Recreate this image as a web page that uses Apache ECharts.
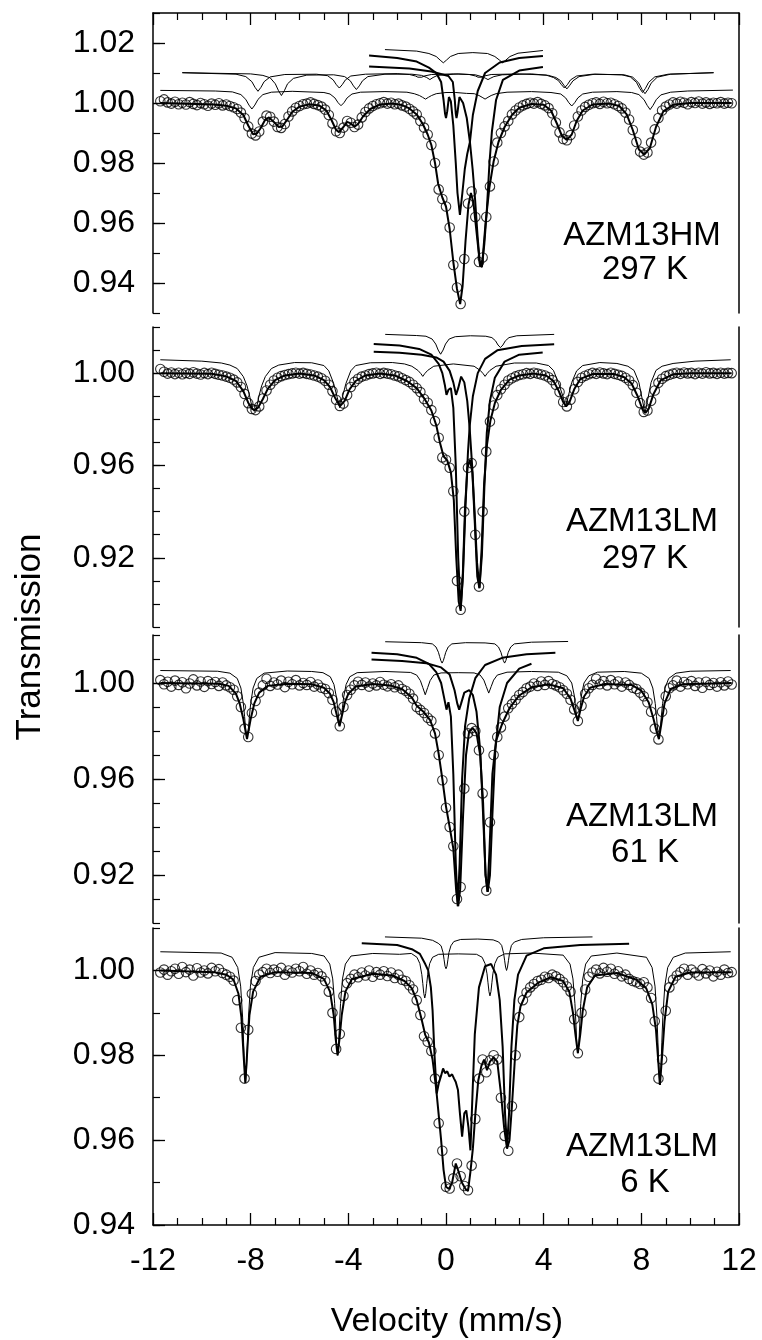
<!DOCTYPE html>
<html>
<head>
<meta charset="utf-8">
<script src="https://cdn.jsdelivr.net/npm/echarts@6/dist/echarts.min.js"></script>
<style>
html, body { margin: 0; padding: 0; background: #fff; }
#chart { width: 762px; height: 1340px; }
</style>
</head>
<body>
<div id="chart"></div>
<script>
// velocity of each channel (mm/s), shared by all four spectra
var VEL = [-11.7,-11.55,-11.4,-11.25,-11.1,-10.95,-10.8,-10.65,-10.5,-10.35,
  -10.2,-10.05,-9.9,-9.75,-9.6,-9.45,-9.3,-9.15,-9,-8.85,
  -8.7,-8.55,-8.4,-8.25,-8.1,-7.95,-7.8,-7.65,-7.5,-7.35,
  -7.2,-7.05,-6.9,-6.75,-6.6,-6.45,-6.3,-6.15,-6,-5.85,
  -5.7,-5.55,-5.4,-5.25,-5.1,-4.95,-4.8,-4.65,-4.5,-4.35,
  -4.2,-4.05,-3.9,-3.75,-3.6,-3.45,-3.3,-3.15,-3,-2.85,
  -2.7,-2.55,-2.4,-2.25,-2.1,-1.95,-1.8,-1.65,-1.5,-1.35,
  -1.2,-1.05,-0.9,-0.75,-0.6,-0.45,-0.3,-0.15,0,0.15,
  0.3,0.45,0.6,0.75,0.9,1.05,1.2,1.35,1.5,1.65,
  1.8,1.95,2.1,2.25,2.4,2.55,2.7,2.85,3,3.15,
  3.3,3.45,3.6,3.75,3.9,4.05,4.2,4.35,4.5,4.65,
  4.8,4.95,5.1,5.25,5.4,5.55,5.7,5.85,6,6.15,
  6.3,6.45,6.6,6.75,6.9,7.05,7.2,7.35,7.5,7.65,
  7.8,7.95,8.1,8.25,8.4,8.55,8.7,8.85,9,9.15,
  9.3,9.45,9.6,9.75,9.9,10.05,10.2,10.35,10.5,10.65,
  10.8,10.95,11.1,11.25,11.4,11.55,11.7];

// ---- AZM13HM 297 K ----
var hm297Data = [1.0006,1.0012,1.0002,0.9998,1.0004,0.9996,1.0001,0.9995,1.0003,0.9997,
  0.9993,1.0000,0.9996,0.9991,0.9998,0.9994,0.9999,0.9992,0.9995,0.9990,
  0.9986,0.9980,0.9968,0.9950,0.9922,0.9898,0.9892,0.9905,0.9938,0.9958,
  0.9954,0.9938,0.9920,0.9917,0.9930,0.9955,0.9972,0.9984,0.9990,0.9996,
  0.9998,1.0002,0.9997,0.9993,0.9988,0.9978,0.9960,0.9932,0.9906,0.9900,
  0.9918,0.9940,0.9934,0.9920,0.9928,0.9952,0.9970,0.9982,0.9990,0.9996,
  0.9999,1.0003,0.9998,1.0001,0.9996,0.9998,0.9992,0.9988,0.9981,0.9972,
  0.9962,0.9940,0.9918,0.9895,0.9860,0.9800,0.9712,0.9680,0.9655,0.9585,
  0.9460,0.9385,0.9330,0.9480,0.9665,0.9705,0.9620,0.9470,0.9485,0.9620,
  0.9722,0.9805,0.9868,0.9900,0.9922,0.9940,0.9962,0.9975,0.9985,0.9992,
  0.9997,1.0001,0.9998,1.0003,0.9997,0.9992,0.9983,0.9966,0.9935,0.9902,
  0.9880,0.9876,0.9893,0.9925,0.9955,0.9975,0.9987,0.9994,0.9999,1.0002,
  0.9997,1.0004,0.9999,1.0001,0.9996,0.9990,0.9982,0.9968,0.9945,0.9910,
  0.9870,0.9838,0.9828,0.9835,0.9868,0.9912,0.9950,0.9975,0.9988,0.9995,
  1.0002,0.9998,1.0004,1.0001,0.9996,1.0003,1.0000,1.0005,0.9998,1.0002,
  0.9997,1.0001,0.9999,1.0003,0.9998,1.0001,0.9999];
var hm297Fit = [[-11.7,1.0],[-9.5,0.9995],[-9.0,0.9991],[-8.6,0.9982],[-8.3,0.9960],[-8.1,0.9925],[-7.9,0.9896],[-7.75,0.9898],[-7.6,0.9915],[-7.4,0.9945],[-7.25,0.9952],[-7.05,0.9937],[-6.85,0.9920],[-6.7,0.9922],[-6.5,0.9945],[-6.3,0.9970],[-6.0,0.9988],[-5.6,0.9996],[-5.2,0.9992],[-4.9,0.9975],[-4.7,0.9945],[-4.5,0.9910],[-4.38,0.9903],[-4.2,0.9920],[-4.05,0.9937],[-3.9,0.9932],[-3.75,0.9921],[-3.6,0.9930],[-3.4,0.9955],[-3.1,0.9980],[-2.7,0.9995],[-2.2,0.9998],[-1.8,0.9993],[-1.5,0.9982],[-1.2,0.9962],[-0.95,0.9930],[-0.75,0.9895],[-0.6,0.9860],[-0.45,0.9800],[-0.32,0.9730],[-0.15,0.9685],[0.0,0.9655],[0.15,0.9580],[0.3,0.9470],[0.45,0.9380],[0.58,0.9330],[0.68,0.9390],[0.8,0.9540],[0.92,0.9660],[1.02,0.9700],[1.12,0.9670],[1.25,0.9570],[1.4,0.9455],[1.5,0.9480],[1.62,0.9600],[1.78,0.9720],[1.95,0.9805],[2.15,0.9870],[2.4,0.9920],[2.7,0.9960],[3.0,0.9984],[3.5,0.9997],[4.0,0.9994],[4.3,0.9975],[4.55,0.9930],[4.75,0.9890],[4.95,0.9877],[5.15,0.9895],[5.35,0.9940],[5.6,0.9975],[6.0,0.9995],[6.7,0.9998],[7.1,0.9990],[7.4,0.9962],[7.65,0.9910],[7.9,0.9845],[8.12,0.9828],[8.35,0.9850],[8.6,0.9920],[8.9,0.9972],[9.3,0.9994],[10,1.0],[11.7,1.0]];
var hm297Sext1 = [[-11.7,1.0042],[-9.45,1.0040],[-8.75,1.0037],[-8.4,1.0028],[-8.2,1.0012],[-8.07,0.9993],[-7.95,0.9980],[-7.83,0.9993],[-7.7,1.0012],[-7.5,1.0028],[-7.15,1.0036],[-6.3,1.0039],[-5.0,1.0035],[-4.75,1.0030],[-4.55,1.0017],[-4.42,1.0001],[-4.3,0.9991],[-4.18,1.0001],[-4.05,1.0017],[-3.85,1.0030],[-3.5,1.0036],[-2.5,1.0038],[-1.6,1.0036],[-1.3,1.0031],[-1.09,1.0025],[-0.96,1.0019],[-0.84,1.0013],[-0.72,1.0019],[-0.59,1.0025],[-0.4,1.0031],[0.0,1.0035],[0.4,1.0035],[0.84,1.0032],[1.16,1.0031],[1.35,1.0025],[1.48,1.0019],[1.6,1.0013],[1.72,1.0019],[1.85,1.0025],[2.05,1.0031],[2.5,1.0036],[3.5,1.0038],[4.3,1.0035],[4.7,1.0030],[4.9,1.0017],[5.03,1.0001],[5.15,0.9990],[5.27,1.0001],[5.4,1.0017],[5.6,1.0030],[6.0,1.0036],[7.0,1.0038],[7.6,1.0035],[7.9,1.0028],[8.11,1.0011],[8.24,0.9992],[8.36,0.9978],[8.48,0.9992],[8.61,1.0011],[8.8,1.0027],[9.2,1.0036],[9.9,1.0040],[11.75,1.0043]];
var hm297Sext2 = [[-10.8,1.0101],[-8.6,1.0096],[-8.2,1.0088],[-7.95,1.0071],[-7.82,1.0052],[-7.7,1.0039],[-7.58,1.0052],[-7.45,1.0071],[-7.2,1.0087],[-6.6,1.0095],[-5.3,1.0096],[-4.85,1.0091],[-4.62,1.0077],[-4.49,1.0061],[-4.37,1.0050],[-4.25,1.0061],[-4.12,1.0077],[-3.9,1.0090],[-3.3,1.0096],[-2.0,1.0098],[-1.5,1.0095],[-1.25,1.0090],[-1.15,1.0086],[-1.07,1.0081],[-0.99,1.0086],[-0.89,1.0090],[-0.6,1.0095],[0.3,1.0097],[0.95,1.0095],[1.21,1.0090],[1.31,1.0086],[1.39,1.0081],[1.47,1.0086],[1.57,1.0090],[1.85,1.0095],[3.0,1.0097],[4.1,1.0093],[4.4,1.0085],[4.6,1.0075],[4.73,1.0061],[4.85,1.0050],[4.97,1.0061],[5.1,1.0077],[5.35,1.0090],[6.0,1.0096],[7.2,1.0094],[7.55,1.0087],[7.8,1.0069],[7.93,1.0049],[8.05,1.0035],[8.17,1.0049],[8.3,1.0069],[8.55,1.0087],[9.1,1.0096],[10.96,1.0101]];
var hm297Sext3 = [[-10.8,1.0101],[-8.0,1.0097],[-7.5,1.0092],[-7.2,1.0084],[-6.99,1.0064],[-6.86,1.0041],[-6.74,1.0025],[-6.62,1.0041],[-6.49,1.0064],[-6.25,1.0082],[-5.7,1.0093],[-4.6,1.0094],[-4.15,1.0088],[-3.92,1.0074],[-3.79,1.0057],[-3.67,1.0045],[-3.55,1.0057],[-3.42,1.0074],[-3.2,1.0088],[-2.5,1.0096],[-1.4,1.0096],[-1.0,1.0092],[-0.79,1.0085],[-0.66,1.0078],[-0.53,1.0085],[-0.35,1.0092],[0.5,1.0097],[1.2,1.0094],[1.5,1.0087],[1.63,1.0082],[1.72,1.0078],[1.81,1.0082],[1.96,1.0088],[2.3,1.0094],[3.5,1.0097],[4.2,1.0092],[4.5,1.0085],[4.7,1.0074],[4.83,1.0059],[4.95,1.0047],[5.07,1.0059],[5.2,1.0074],[5.45,1.0088],[6.1,1.0096],[7.3,1.0094],[7.65,1.0086],[7.9,1.0066],[8.03,1.0045],[8.15,1.0031],[8.27,1.0045],[8.4,1.0066],[8.65,1.0086],[9.2,1.0096],[10.96,1.0101]];
var hm297Dbl1 = [[-2.5,1.0178],[-1.2,1.0173],[-0.7,1.0165],[-0.4,1.0155],[-0.24,1.0143],[-0.11,1.0134],[0.02,1.0143],[0.18,1.0155],[0.5,1.0165],[1.1,1.0168],[1.7,1.0165],[2.0,1.0155],[2.19,1.0143],[2.32,1.0134],[2.45,1.0143],[2.62,1.0155],[2.95,1.0166],[3.97,1.0175]];
var hm297Dbl2 = [[-3.15,1.0158],[-2.0,1.0150],[-1.2,1.0138],[-0.7,1.0118],[-0.4,1.0100],[-0.2,1.0070],[-0.1,1.0010],[-0.04,0.9965],[0.0,0.9950],[0.05,0.9972],[0.12,1.0020],[0.2,1.0005],[0.3,0.9925],[0.4,0.9800],[0.47,0.9700],[0.57,0.9627],[0.67,0.9700],[0.77,0.9780],[0.87,0.9830],[0.98,0.9870],[1.1,0.9960],[1.3,1.0040],[1.6,1.0100],[2.2,1.0135],[3.0,1.0150],[3.97,1.0157]];
var hm297Dbl3 = [[-3.15,1.0122],[-1.5,1.0115],[-0.6,1.0105],[0.1,1.0090],[0.28,1.0070],[0.36,1.0010],[0.4,0.9965],[0.43,0.9950],[0.47,0.9968],[0.55,1.0020],[0.7,1.0000],[0.85,0.9950],[0.98,0.9870],[1.09,0.9780],[1.19,0.9680],[1.29,0.9560],[1.39,0.9460],[1.47,0.9453],[1.57,0.9530],[1.67,0.9640],[1.78,0.9800],[1.88,0.9905],[2.05,1.0010],[2.33,1.0077],[3.0,1.0108],[3.97,1.0120]];

// ---- AZM13LM 297 K ----
var lm297Data = [1.0018,1.0006,0.9998,1.0003,0.9996,1.0002,0.9995,1.0001,0.9997,1.0004,
  0.9998,0.9994,1.0001,0.9996,1.0002,0.9997,0.9993,0.9990,0.9985,0.9980,
  0.9972,0.9960,0.9940,0.9910,0.9870,0.9845,0.9840,0.9856,0.9890,0.9925,
  0.9950,0.9968,0.9980,0.9987,0.9992,0.9996,0.9999,1.0002,0.9998,1.0001,
  0.9997,0.9994,0.9990,0.9985,0.9978,0.9967,0.9950,0.9922,0.9885,0.9858,
  0.9868,0.9905,0.9940,0.9962,0.9976,0.9985,0.9990,0.9996,0.9999,1.0002,
  0.9997,1.0001,0.9998,0.9995,0.9990,0.9986,0.9978,0.9970,0.9962,0.9950,
  0.9935,0.9918,0.9888,0.9872,0.9840,0.9792,0.9720,0.9635,0.9625,0.9590,
  0.9488,0.9100,0.8975,0.9400,0.9590,0.9610,0.9300,0.9075,0.9400,0.9660,
  0.9790,0.9860,0.9905,0.9930,0.9950,0.9968,0.9978,0.9986,0.9992,0.9995,
  1.0000,0.9997,1.0002,0.9998,0.9994,0.9990,0.9982,0.9970,0.9950,0.9918,
  0.9875,0.9856,0.9885,0.9930,0.9962,0.9980,0.9989,0.9995,1.0001,0.9997,
  1.0003,0.9999,0.9996,1.0002,0.9997,0.9993,0.9988,0.9980,0.9968,0.9948,
  0.9915,0.9870,0.9832,0.9838,0.9880,0.9925,0.9958,0.9976,0.9987,0.9993,
  0.9998,1.0002,0.9997,1.0003,0.9999,1.0001,0.9996,1.0002,0.9998,1.0004,
  0.9999,1.0001,0.9997,1.0002,0.9998,1.0001,1.0000];
var lm297Fit = [[-11.7,1.0],[-9.6,0.9997],[-9.0,0.9986],[-8.6,0.9966],[-8.3,0.9922],[-8.1,0.9872],[-7.95,0.9846],[-7.84,0.9840],[-7.7,0.9850],[-7.5,0.9888],[-7.3,0.9932],[-7.0,0.9970],[-6.6,0.9990],[-6.0,0.9998],[-5.4,0.9990],[-5.0,0.9970],[-4.75,0.9940],[-4.55,0.9895],[-4.34,0.9857],[-4.15,0.9880],[-3.95,0.9930],[-3.7,0.9966],[-3.3,0.9990],[-2.7,0.9998],[-2.1,0.9990],[-1.6,0.9966],[-1.2,0.9935],[-0.9,0.9892],[-0.6,0.9838],[-0.4,0.9775],[-0.25,0.9700],[-0.1,0.9640],[0.05,0.9622],[0.2,0.9570],[0.32,0.9450],[0.42,0.9200],[0.52,0.9010],[0.6,0.8970],[0.68,0.9100],[0.78,0.9420],[0.88,0.9590],[0.98,0.9625],[1.08,0.9570],[1.18,0.9350],[1.28,0.9120],[1.37,0.9068],[1.46,0.9240],[1.56,0.9520],[1.68,0.9690],[1.82,0.9795],[2.0,0.9870],[2.25,0.9928],[2.6,0.9972],[3.0,0.9990],[3.6,0.9998],[4.1,0.9990],[4.4,0.9966],[4.62,0.9922],[4.8,0.9875],[4.92,0.9856],[5.05,0.9872],[5.25,0.9930],[5.5,0.9975],[6.0,0.9996],[6.9,0.9996],[7.3,0.9982],[7.6,0.9955],[7.85,0.9900],[8.05,0.9842],[8.17,0.9828],[8.3,0.9845],[8.5,0.9910],[8.8,0.9970],[9.3,0.9995],[10,1.0],[11.7,1.0]];
var lm297Sext = [[-11.7,1.0058],[-10.0,1.0052],[-9.2,1.0044],[-8.85,1.0035],[-8.55,1.0020],[-8.3,0.9985],[-8.15,0.9945],[-8.05,0.9905],[-7.95,0.9855],[-7.85,0.9834],[-7.75,0.9855],[-7.65,0.9905],[-7.55,0.9945],[-7.4,0.9985],[-7.15,1.0020],[-6.85,1.0035],[-6.2,1.0046],[-5.5,1.0045],[-5.0,1.0033],[-4.8,1.0010],[-4.6,0.9955],[-4.45,0.9893],[-4.35,0.9850],[-4.25,0.9893],[-4.1,0.9955],[-3.9,1.0010],[-3.7,1.0033],[-3.1,1.0045],[-2.2,1.0046],[-1.7,1.0040],[-1.4,1.0030],[-1.15,1.0012],[-1.03,0.9998],[-0.95,0.9986],[-0.87,0.9998],[-0.75,1.0012],[-0.5,1.0030],[0.3,1.0040],[1.15,1.0030],[1.4,1.0012],[1.52,0.9998],[1.6,0.9986],[1.68,0.9998],[1.8,1.0012],[2.05,1.0030],[2.8,1.0044],[3.7,1.0044],[4.2,1.0033],[4.4,1.0012],[4.6,0.9960],[4.8,0.9896],[4.9,0.9856],[5.0,0.9896],[5.15,0.9960],[5.35,1.0010],[5.6,1.0033],[6.3,1.0046],[7.0,1.0042],[7.45,1.0030],[7.7,1.0012],[7.9,0.9960],[8.05,0.9880],[8.15,0.9827],[8.25,0.9880],[8.4,0.9960],[8.6,1.0012],[8.85,1.0030],[9.3,1.0042],[10.2,1.0052],[11.66,1.0058]];
var lm297Dbl1 = [[-2.49,1.0168],[-1.2,1.0163],[-0.82,1.0160],[-0.57,1.0148],[-0.42,1.0126],[-0.32,1.0100],[-0.22,1.0082],[-0.12,1.0100],[-0.02,1.0126],[0.13,1.0148],[0.38,1.0158],[1.0,1.0162],[1.63,1.0160],[1.88,1.0154],[2.03,1.0140],[2.13,1.0122],[2.23,1.0111],[2.33,1.0122],[2.43,1.0140],[2.58,1.0154],[2.9,1.0162],[4.43,1.0168]];
var lm297Dbl2 = [[-2.96,1.0126],[-1.9,1.0120],[-1.1,1.0105],[-0.6,1.0080],[-0.3,1.0040],[-0.15,1.0000],[-0.05,0.9950],[0.02,0.9906],[0.1,0.9928],[0.2,0.9935],[0.3,0.9850],[0.4,0.9600],[0.5,0.9200],[0.6,0.8980],[0.7,0.9139],[0.8,0.9428],[0.9,0.9658],[0.97,0.9770],[1.1,0.9900],[1.3,1.0000],[1.6,1.0062],[2.1,1.0099],[3.1,1.0118],[4.43,1.0125]];
var lm297Dbl3 = [[-2.96,1.0093],[-1.9,1.0088],[-1.0,1.0080],[-0.4,1.0068],[-0.1,1.0050],[0.15,1.0010],[0.3,0.9960],[0.41,0.9906],[0.5,0.9935],[0.62,0.9985],[0.75,0.9960],[0.87,0.9880],[0.97,0.9760],[1.07,0.9600],[1.17,0.9400],[1.27,0.9180],[1.37,0.9070],[1.47,0.9210],[1.57,0.9500],[1.67,0.9740],[1.8,0.9880],[2.0,0.9980],[2.4,1.0050],[3.0,1.0080],[3.96,1.0090]];

// ---- AZM13LM 61 K ----
var lm61Data = [1.0012,0.9995,1.0005,0.9985,1.0010,0.9992,1.0003,0.9978,0.9998,1.0015,
  0.9990,1.0006,0.9984,1.0008,0.9996,1.0004,0.9988,1.0002,0.9990,0.9982,
  0.9972,0.9945,0.9900,0.9810,0.9775,0.9875,0.9925,0.9960,0.9990,1.0018,
  0.9988,1.0002,0.9994,1.0010,0.9983,1.0005,0.9995,1.0012,0.9990,1.0000,
  0.9992,1.0004,0.9985,0.9994,0.9980,0.9975,0.9958,0.9930,0.9880,0.9820,
  0.9900,0.9950,0.9972,0.9990,1.0005,0.9992,1.0002,0.9985,0.9998,0.9990,
  1.0004,0.9993,0.9986,0.9995,0.9982,0.9990,0.9975,0.9968,0.9955,0.9935,
  0.9900,0.9888,0.9875,0.9855,0.9842,0.9790,0.9700,0.9595,0.9480,0.9400,
  0.9320,0.9100,0.9150,0.9560,0.9790,0.9812,0.9800,0.9720,0.9540,0.9135,
  0.9420,0.9700,0.9775,0.9815,0.9860,0.9895,0.9912,0.9930,0.9950,0.9962,
  0.9978,0.9985,0.9998,0.9988,1.0006,0.9992,1.0008,0.9996,0.9990,0.9982,
  0.9970,0.9955,0.9930,0.9890,0.9842,0.9905,0.9955,0.9978,0.9992,1.0018,
  0.9995,1.0008,0.9990,1.0012,0.9995,1.0006,0.9985,1.0002,0.9992,0.9980,
  0.9975,0.9960,0.9945,0.9920,0.9880,0.9810,0.9765,0.9880,0.9945,0.9978,
  0.9990,1.0010,0.9985,1.0004,0.9995,1.0008,0.9988,1.0002,0.9980,1.0005,
  0.9992,1.0000,0.9985,1.0003,0.9990,1.0006,0.9994];
var lm61Fit = [[-11.7,1.0],[-9.3,0.9997],[-8.9,0.9988],[-8.6,0.9955],[-8.45,0.9915],[-8.3,0.9850],[-8.15,0.9766],[-8.0,0.9850],[-7.85,0.9915],[-7.65,0.9960],[-7.3,0.9988],[-6.5,0.9997],[-5.5,0.9995],[-5.0,0.9980],[-4.75,0.9955],[-4.6,0.9920],[-4.48,0.9870],[-4.36,0.9820],[-4.25,0.9870],[-4.14,0.9920],[-4.0,0.9955],[-3.7,0.9985],[-3.0,0.9996],[-2.3,0.9990],[-1.8,0.9975],[-1.4,0.9940],[-1.2,0.9905],[-0.9,0.9878],[-0.65,0.9845],[-0.45,0.9790],[-0.3,0.9705],[-0.15,0.9600],[0.0,0.9485],[0.15,0.9400],[0.3,0.9310],[0.42,0.9130],[0.5,0.9070],[0.58,0.9140],[0.7,0.9450],[0.82,0.9700],[0.95,0.9800],[1.1,0.9812],[1.25,0.9790],[1.4,0.9700],[1.52,0.9500],[1.62,0.9200],[1.7,0.9130],[1.78,0.9300],[1.9,0.9620],[2.05,0.9760],[2.3,0.9830],[2.6,0.9895],[3.0,0.9948],[3.5,0.9982],[4.2,0.9995],[4.8,0.9978],[5.1,0.9935],[5.25,0.9890],[5.4,0.9842],[5.52,0.9895],[5.66,0.9945],[5.9,0.9980],[6.5,0.9996],[7.6,0.9992],[8.0,0.9968],[8.3,0.9920],[8.5,0.9850],[8.62,0.9800],[8.72,0.9766],[8.82,0.9830],[8.95,0.9915],[9.2,0.9975],[9.7,0.9995],[11.7,1.0]];
var lm61Sext = [[-11.7,1.0052],[-9.35,1.0049],[-8.85,1.0041],[-8.55,1.0019],[-8.4,0.9979],[-8.3,0.9914],[-8.25,0.9861],[-8.2,0.9803],[-8.15,0.9775],[-8.1,0.9803],[-8.05,0.9861],[-8.0,0.9914],[-7.9,0.9979],[-7.75,1.0019],[-7.45,1.0041],[-6.5,1.0050],[-5.5,1.0048],[-5.04,1.0043],[-4.74,1.0026],[-4.59,0.9994],[-4.49,0.9942],[-4.44,0.9899],[-4.39,0.9852],[-4.34,0.9830],[-4.29,0.9852],[-4.24,0.9899],[-4.19,0.9942],[-4.09,0.9994],[-3.94,1.0026],[-3.64,1.0043],[-2.5,1.0048],[-1.45,1.0044],[-1.2,1.0033],[-1.05,1.0010],[-0.95,0.9981],[-0.85,0.9951],[-0.75,0.9981],[-0.65,1.0010],[-0.5,1.0033],[-0.2,1.0042],[0.5,1.0043],[1.15,1.0042],[1.4,1.0033],[1.55,1.0012],[1.65,0.9985],[1.75,0.9958],[1.85,0.9985],[1.95,1.0012],[2.1,1.0033],[2.5,1.0045],[3.5,1.0048],[4.6,1.0045],[4.95,1.0030],[5.15,1.0000],[5.25,0.9950],[5.3,0.9905],[5.35,0.9862],[5.4,0.9845],[5.45,0.9862],[5.5,0.9905],[5.55,0.9950],[5.65,1.0000],[5.85,1.0030],[6.2,1.0045],[7.3,1.0048],[8.0,1.0041],[8.32,1.0019],[8.47,0.9979],[8.57,0.9914],[8.62,0.9861],[8.67,0.9803],[8.72,0.9775],[8.77,0.9803],[8.82,0.9861],[8.87,0.9914],[8.97,0.9979],[9.12,1.0019],[9.42,1.0041],[10.0,1.0049],[11.66,1.0052]];
var lm61Dbl1 = [[-2.49,1.0172],[-1.0,1.0168],[-0.56,1.0163],[-0.41,1.0150],[-0.31,1.0128],[-0.26,1.0110],[-0.21,1.0093],[-0.16,1.0083],[-0.11,1.0093],[-0.06,1.0110],[-0.01,1.0128],[0.09,1.0150],[0.24,1.0163],[0.8,1.0168],[1.6,1.0167],[2.0,1.0163],[2.15,1.0150],[2.25,1.0128],[2.3,1.0110],[2.35,1.0093],[2.4,1.0083],[2.45,1.0093],[2.5,1.0110],[2.55,1.0128],[2.65,1.0150],[2.8,1.0163],[3.5,1.0170],[5.0,1.0173]];
var lm61Dbl2 = [[-3.05,1.0126],[-2.0,1.0120],[-1.2,1.0105],[-0.7,1.0080],[-0.4,1.0045],[-0.2,1.0000],[-0.08,0.9940],[0.02,0.9889],[0.1,0.9920],[0.2,0.9860],[0.3,0.9620],[0.4,0.9250],[0.48,0.9070],[0.56,0.9250],[0.66,0.9600],[0.78,0.9820],[0.95,0.9935],[1.2,1.0020],[1.6,1.0075],[2.3,1.0105],[3.3,1.0120],[4.48,1.0126]];
var lm61Dbl3 = [[-3.05,1.0098],[-1.8,1.0092],[-0.8,1.0082],[-0.2,1.0065],[0.15,1.0035],[0.35,0.9970],[0.46,0.9915],[0.54,0.9889],[0.62,0.9915],[0.75,0.9960],[0.95,0.9970],[1.1,0.9950],[1.25,0.9880],[1.4,0.9720],[1.52,0.9450],[1.62,0.9200],[1.71,0.9130],[1.8,0.9200],[1.9,0.9450],[2.02,0.9720],[2.2,0.9900],[2.5,1.0000],[3.0,1.0060],[3.5,1.0080]];

// ---- AZM13LM 6 K ----
var lm6Data = [0.9995,1.0002,0.9990,0.9998,1.0004,0.9992,1.0008,0.9996,1.0002,0.9988,
  1.0005,0.9995,1.0000,0.9993,1.0006,0.9998,1.0003,0.9994,0.9990,0.9985,
  0.9976,0.9930,0.9865,0.9745,0.9860,0.9945,0.9975,0.9990,0.9996,1.0004,
  0.9994,1.0002,0.9997,1.0006,0.9990,1.0000,0.9995,1.0004,0.9998,1.0008,
  0.9992,1.0000,0.9990,0.9994,0.9986,0.9975,0.9950,0.9900,0.9815,0.9850,
  0.9940,0.9970,0.9980,0.9990,0.9984,0.9995,0.9988,1.0000,0.9985,0.9996,
  0.9990,0.9998,0.9987,0.9995,0.9982,0.9990,0.9978,0.9975,0.9965,0.9955,
  0.9930,0.9895,0.9845,0.9832,0.9810,0.9745,0.9640,0.9575,0.9490,0.9486,
  0.9510,0.9545,0.9515,0.9492,0.9482,0.9540,0.9650,0.9745,0.9790,0.9760,
  0.9788,0.9800,0.9790,0.9700,0.9610,0.9575,0.9680,0.9800,0.9890,0.9930,
  0.9948,0.9960,0.9968,0.9975,0.9978,0.9985,0.9982,0.9990,0.9986,0.9980,
  0.9972,0.9962,0.9950,0.9885,0.9805,0.9900,0.9955,0.9985,0.9995,1.0002,
  0.9993,1.0006,0.9997,1.0004,0.9992,0.9998,0.9986,0.9990,0.9980,0.9975,
  0.9972,0.9968,0.9972,0.9960,0.9935,0.9880,0.9745,0.9790,0.9905,0.9960,
  0.9978,0.9988,0.9996,1.0004,0.9990,1.0002,0.9995,0.9988,1.0003,0.9993,
  1.0000,0.9986,0.9997,0.9990,1.0002,0.9994,0.9996];
var lm6Fit = [[-11.7,1.0],[-9.5,0.9996],[-9.0,0.9990],[-8.7,0.9978],[-8.5,0.9945],[-8.38,0.9890],[-8.3,0.9810],[-8.22,0.9735],[-8.14,0.9810],[-8.05,0.9895],[-7.9,0.9950],[-7.6,0.9985],[-7.0,0.9996],[-5.5,0.9994],[-5.0,0.9980],[-4.75,0.9950],[-4.6,0.9895],[-4.52,0.9840],[-4.44,0.9800],[-4.36,0.9840],[-4.27,0.9895],[-4.12,0.9950],[-3.85,0.9980],[-3.0,0.9992],[-2.2,0.9988],[-1.7,0.9975],[-1.4,0.9958],[-1.2,0.9930],[-1.0,0.9885],[-0.85,0.9848],[-0.7,0.9830],[-0.55,0.9790],[-0.4,0.9720],[-0.3,0.9660],[-0.2,0.9600],[-0.1,0.9530],[0.0,0.9490],[0.12,0.9485],[0.25,0.9500],[0.4,0.9545],[0.52,0.9525],[0.65,0.9500],[0.8,0.9485],[0.9,0.9480],[1.0,0.9525],[1.1,0.9580],[1.2,0.9660],[1.32,0.9740],[1.45,0.9775],[1.56,0.9790],[1.68,0.9765],[1.8,0.9785],[1.95,0.9795],[2.1,0.9785],[2.25,0.9710],[2.38,0.9630],[2.5,0.9580],[2.6,0.9600],[2.7,0.9680],[2.82,0.9790],[2.92,0.9870],[3.05,0.9915],[3.3,0.9948],[3.8,0.9972],[4.3,0.9984],[4.8,0.9975],[5.05,0.9950],[5.2,0.9900],[5.3,0.9850],[5.4,0.9805],[5.5,0.9850],[5.6,0.9905],[5.78,0.9960],[6.1,0.9988],[7.0,0.9994],[7.8,0.9978],[8.2,0.9958],[8.45,0.9920],[8.6,0.9860],[8.7,0.9780],[8.76,0.9730],[8.84,0.9790],[8.95,0.9880],[9.1,0.9950],[9.4,0.9985],[10.0,0.9995],[11.7,0.9996]];
var lm6Sext = [[-11.7,1.0044],[-9.21,1.0041],[-8.76,1.0031],[-8.53,1.0007],[-8.41,0.9963],[-8.33,0.9890],[-8.29,0.9831],[-8.25,0.9766],[-8.21,0.9735],[-8.17,0.9766],[-8.13,0.9831],[-8.09,0.9890],[-8.01,0.9963],[-7.89,1.0007],[-7.66,1.0031],[-7.0,1.0042],[-5.5,1.0040],[-4.99,1.0034],[-4.76,1.0015],[-4.64,0.9980],[-4.56,0.9922],[-4.52,0.9876],[-4.48,0.9824],[-4.44,0.9800],[-4.40,0.9824],[-4.36,0.9876],[-4.32,0.9922],[-4.24,0.9980],[-4.12,1.0015],[-3.89,1.0034],[-3.0,1.0040],[-1.9,1.0038],[-1.42,1.0040],[-1.19,1.0031],[-1.07,1.0016],[-0.99,0.9990],[-0.95,0.9969],[-0.91,0.9946],[-0.87,0.9935],[-0.83,0.9946],[-0.79,0.9969],[-0.75,0.9990],[-0.67,1.0016],[-0.55,1.0031],[-0.3,1.0038],[0.5,1.0039],[1.25,1.0038],[1.48,1.0031],[1.6,1.0016],[1.68,0.9992],[1.72,0.9971],[1.76,0.9950],[1.8,0.9940],[1.84,0.9950],[1.88,0.9971],[1.92,0.9992],[2.0,1.0016],[2.12,1.0031],[2.4,1.0039],[3.5,1.0041],[4.8,1.0036],[5.08,1.0015],[5.2,0.9980],[5.28,0.9922],[5.32,0.9876],[5.36,0.9824],[5.4,0.9805],[5.44,0.9824],[5.48,0.9876],[5.52,0.9922],[5.6,0.9980],[5.72,1.0015],[5.95,1.0034],[7.0,1.0041],[8.21,1.0031],[8.44,1.0007],[8.56,0.9963],[8.64,0.9890],[8.68,0.9831],[8.72,0.9766],[8.76,0.9730],[8.8,0.9766],[8.84,0.9831],[8.88,0.9890],[8.96,0.9963],[9.08,1.0007],[9.31,1.0031],[9.8,1.0041],[11.66,1.0044]];
var lm6Dbl1 = [[-2.5,1.0079],[-1.0,1.0076],[-0.55,1.0071],[-0.32,1.0064],[-0.2,1.0058],[-0.12,1.0042],[-0.08,1.0026],[-0.04,1.0010],[0.0,1.0004],[0.04,1.0010],[0.08,1.0026],[0.12,1.0042],[0.2,1.0058],[0.32,1.0068],[0.6,1.0073],[1.3,1.0074],[1.93,1.0072],[2.16,1.0067],[2.28,1.0059],[2.36,1.0040],[2.4,1.0024],[2.44,1.0008],[2.48,1.0000],[2.52,1.0008],[2.56,1.0024],[2.6,1.0040],[2.68,1.0059],[2.8,1.0067],[3.1,1.0073],[4.0,1.0077],[6.0,1.0079]];
var lm6Fe2 = [[-3.45,1.0064],[-2.0,1.0060],[-1.4,1.0050],[-1.07,1.0039],[-0.85,1.0015],[-0.73,1.0000],[-0.62,0.9960],[-0.55,0.9906],[-0.47,0.9800],[-0.38,0.9710],[-0.3,0.9733],[-0.2,0.9752],[-0.12,0.9769],[-0.04,0.9758],[0.05,0.9762],[0.14,0.9750],[0.25,0.9755],[0.33,0.9745],[0.4,0.9737],[0.49,0.9718],[0.57,0.9663],[0.66,0.9608],[0.75,0.9663],[0.83,0.9670],[0.92,0.9630],[1.0,0.9576],[1.08,0.9700],[1.18,0.9850],[1.35,0.9960],[1.6,1.0010],[1.85,1.0015],[2.05,0.9990],[2.2,0.9930],[2.32,0.9820],[2.42,0.9660],[2.5,0.9585],[2.58,0.9660],[2.68,0.9820],[2.8,0.9930],[2.95,0.9990],[3.3,1.0035],[4.0,1.0052],[5.5,1.0060],[7.5,1.0063]];

// tick labels of each panel
var ticksHM297 = [0.94, 0.96, 0.98, 1.00, 1.02];
var ticksLM297 = [0.92, 0.96, 1.00];
var ticksLM61 = [0.92, 0.96, 1.00];
var ticksLM6 = [0.94, 0.96, 0.98, 1.00];
var velTicks = [-12, -8, -4, 0, 4, 8, 12];

var FONT = '"Liberation Sans", Arial, Helvetica, sans-serif';
var BLACK = '#000';

// panel layout (pixels) and y ranges
var panels = [
  { top: 13, height: 300, min: 0.93, max: 1.03, ticks: ticksHM297, data: hm297Data, fit: hm297Fit,
    comps: [[hm297Sext1, 1], [hm297Sext2, 1], [hm297Sext3, 1], [hm297Dbl1, 1], [hm297Dbl2, 2], [hm297Dbl3, 2]],
    label: ['AZM13HM', '297 K'], labelY: [236, 270] },
  { top: 327, height: 300, min: 0.89, max: 1.02, ticks: ticksLM297, data: lm297Data, fit: lm297Fit,
    comps: [[lm297Sext, 1], [lm297Dbl1, 1], [lm297Dbl2, 2], [lm297Dbl3, 2]],
    label: ['AZM13LM', '297 K'], labelY: [522, 559] },
  { top: 635, height: 288, min: 0.90, max: 1.02, ticks: ticksLM61, data: lm61Data, fit: lm61Fit,
    comps: [[lm61Sext, 1], [lm61Dbl1, 1], [lm61Dbl2, 2], [lm61Dbl3, 2]],
    label: ['AZM13LM', '61 K'], labelY: [817, 853] },
  { top: 928, height: 297, min: 0.94, max: 1.01, ticks: ticksLM6, data: lm6Data, fit: lm6Fit,
    comps: [[lm6Sext, 1], [lm6Dbl1, 1], [lm6Fe2, 2]],
    label: ['AZM13LM', '6 K'], labelY: [1147, 1183] }
];

var grids = [], xAxes = [], yAxes = [], series = [], texts = [];

panels.forEach(function (p, i) {
  grids.push({ left: 153, right: 23, top: p.top, height: p.height });

  var showX = (i === 0 || i === 3);
  xAxes.push({
    gridIndex: i, type: 'value', min: -12, max: 12, interval: 4,
    position: i === 0 ? 'top' : 'bottom',
    show: showX,
    axisLine: { show: true, onZero: false, lineStyle: { color: BLACK, width: 1.5 } },
    axisTick: { show: true, inside: true, length: 12, lineStyle: { color: BLACK, width: 1.3 } },
    minorTick: { show: true, splitNumber: 4, length: 7, lineStyle: { color: BLACK, width: 1.2 } },
    axisLabel: { show: i === 3, color: BLACK, fontSize: 32, fontFamily: FONT, margin: 20,
      customValues: velTicks },
    splitLine: { show: false }
  });

  // left axis with the labelled (long) ticks
  yAxes.push({
    gridIndex: i, type: 'value', min: p.min, max: p.max, position: 'left',
    axisLine: { show: true, onZero: false, lineStyle: { color: BLACK, width: 1.5 } },
    axisTick: { show: true, inside: true, length: 12, customValues: p.ticks, lineStyle: { color: BLACK, width: 1.3 } },
    axisLabel: { show: true, customValues: p.ticks, color: BLACK, fontSize: 32, fontFamily: FONT, margin: 18,
      formatter: function (v) { return v.toFixed(2); } },
    splitLine: { show: false }
  });
  // short ticks every 0.01
  yAxes.push({
    gridIndex: i, type: 'value', min: p.min, max: p.max, interval: 0.01, position: 'left',
    axisLine: { show: false, onZero: false },
    axisTick: { show: true, inside: true, length: 7, lineStyle: { color: BLACK, width: 1.2 } },
    axisLabel: { show: false },
    splitLine: { show: false }
  });
  // right frame line
  yAxes.push({
    gridIndex: i, type: 'value', min: p.min, max: p.max, position: 'right',
    axisLine: { show: true, onZero: false, lineStyle: { color: BLACK, width: 1.5 } },
    axisTick: { show: false }, axisLabel: { show: false }, splitLine: { show: false }
  });

  var yIdx = i * 3;
  p.comps.forEach(function (c) {
    series.push({
      type: 'line', xAxisIndex: i, yAxisIndex: yIdx, data: c[0], symbol: 'none',
      lineStyle: { color: BLACK, width: c[1] === 2 ? 2 : 1 }, z: 2, silent: true
    });
  });
  series.push({
    type: 'scatter', xAxisIndex: i, yAxisIndex: yIdx,
    data: VEL.map(function (v, k) { return [v, p.data[k]]; }),
    symbol: 'circle', symbolSize: 9.5,
    itemStyle: { color: 'rgba(255,255,255,0)', borderColor: BLACK, borderWidth: 1.1 },
    z: 3, silent: true
  });
  series.push({
    type: 'line', xAxisIndex: i, yAxisIndex: yIdx, data: p.fit, symbol: 'none',
    lineStyle: { color: BLACK, width: 2 }, z: 4, silent: true
  });

  texts.push({ type: 'text', x: 642, y: p.labelY[0],
    style: { text: p.label[0], font: '33px ' + FONT, fill: BLACK, textAlign: 'center', textVerticalAlign: 'middle', align: 'center', verticalAlign: 'middle' } });
  texts.push({ type: 'text', x: 645, y: p.labelY[1],
    style: { text: p.label[1], font: '33px ' + FONT, fill: BLACK, textAlign: 'center', textVerticalAlign: 'middle', align: 'center', verticalAlign: 'middle' } });
});

// axis titles
texts.push({ type: 'text', x: 30, y: 637, rotation: Math.PI / 2,
  style: { text: 'Transmission', font: '35px ' + FONT, fill: BLACK, textAlign: 'center', textVerticalAlign: 'middle', align: 'center', verticalAlign: 'middle' } });
texts.push({ type: 'text', x: 447, y: 1322,
  style: { text: 'Velocity (mm/s)', font: '34px ' + FONT, fill: BLACK, textAlign: 'center', textVerticalAlign: 'middle', align: 'center', verticalAlign: 'middle' } });

var chart = echarts.init(document.getElementById('chart'), null, { renderer: 'canvas' });
chart.setOption({
  backgroundColor: '#fff',
  animation: false,
  grid: grids,
  xAxis: xAxes,
  yAxis: yAxes,
  series: series,
  graphic: { elements: texts }
});
</script>
</body>
</html>
